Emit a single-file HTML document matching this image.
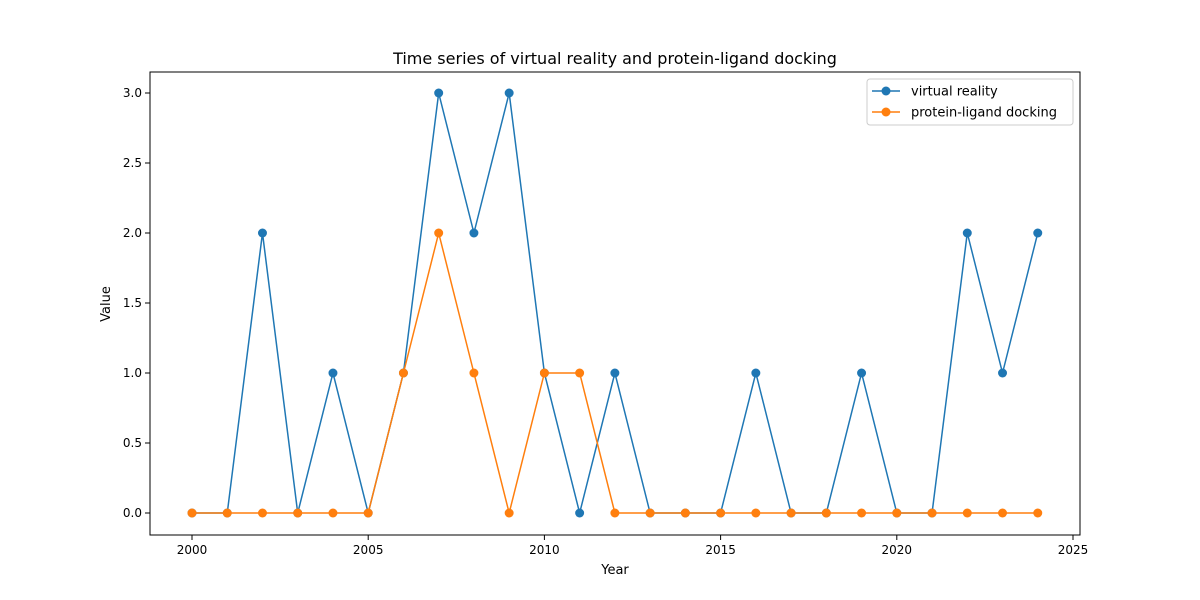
<!DOCTYPE html>
<html><head><meta charset="utf-8"><style>
html,body{margin:0;padding:0;background:#fff;}
svg{display:block;font-family:"DejaVu Sans","Liberation Sans",sans-serif;}
</style></head><body>
<svg id="chart" width="1200" height="600" viewBox="0 0 1200 600"></svg>
<script>
const years = [2000,2001,2002,2003,2004,2005,2006,2007,2008,2009,2010,2011,2012,2013,2014,2015,2016,2017,2018,2019,2020,2021,2022,2023,2024];
const virtualReality = [0,0,2,0,1,0,1,3,2,3,1,0,1,0,0,0,1,0,0,1,0,0,2,1,2];
const proteinLigand = [0,0,0,0,0,0,1,2,1,0,1,1,0,0,0,0,0,0,0,0,0,0,0,0,0];
const xTicks = [2000,2005,2010,2015,2020,2025];
const yTicks = [0,0.5,1,1.5,2,2.5,3];
const yTickLabels = ["0.0","0.5","1.0","1.5","2.0","2.5","3.0"];

const NS="http://www.w3.org/2000/svg";
const svg=document.getElementById('chart');
const L=150,R=1080,T=72,B=535;
const xs=v=>192+(v-2000)*(1073-192)/25;
const ys=v=>513-v*140;
function mk(tag,attrs,parent){const e=document.createElementNS(NS,tag);for(const k in attrs)e.setAttribute(k,attrs[k]);(parent||svg).appendChild(e);return e;}

const title=mk('text',{x:615,y:64,'text-anchor':'middle','font-size':16,fill:'#000'});
title.textContent='Time series of virtual reality and protein-ligand docking';



xTicks.forEach(t=>{
  const g=mk('g',{});
  
  
  mk('line',{x1:xs(t),x2:xs(t),y1:B,y2:B+5,stroke:'#000','stroke-width':1},g);
  const tx=mk('text',{x:xs(t),y:B+19,'text-anchor':'middle','font-size':12},g);tx.textContent=t;
});
yTicks.forEach((t,i)=>{
  const g=mk('g',{});
  
  
  mk('line',{x1:L-5,x2:L,y1:ys(t),y2:ys(t),stroke:'#000','stroke-width':1},g);
  const tx=mk('text',{x:L-8,y:ys(t)+4,'text-anchor':'end','font-size':12},g);tx.textContent=yTickLabels[i];
});
const xl=mk('text',{x:615,y:574,'text-anchor':'middle','font-size':13});xl.textContent='Year';


const yl=mk('text',{x:110,y:304,'text-anchor':'middle','font-size':13,transform:'rotate(-90 110 304)'});yl.textContent='Value';



function series(vals,color,name){
  const g=mk('g',{});
  
  
  mk('polyline',{points:years.map((y,i)=>xs(y)+','+ys(vals[i])).join(' '),fill:'none',stroke:color,'stroke-width':1.5},g);
  years.forEach((y,i)=>{
    const c=mk('circle',{cx:xs(y),cy:ys(vals[i]),r:4.5,fill:color},g);
    
    
  });
}
series(virtualReality,'#1f77b4','virtual-reality');
series(proteinLigand,'#ff7f0e','protein-ligand-docking');

const frame=mk('rect',{x:L,y:T,width:R-L,height:B-T,fill:'none',stroke:'#000','stroke-width':1});



const lg=mk('g',{});


mk('rect',{x:867,y:79,width:206,height:46,fill:'#fff',stroke:'#ccc',rx:3},lg);
[['virtual reality','#1f77b4',91],['protein-ligand docking','#ff7f0e',112]].forEach(([lab,c,y])=>{
  const e=mk('g',{},lg);
  
  
  mk('line',{x1:872,x2:900,y1:y,y2:y,stroke:c,'stroke-width':1.5},e);
  mk('circle',{cx:886,cy:y,r:4.5,fill:c},e);
  const t=mk('text',{x:911,y:y+4.5,'font-size':13},e);t.textContent=lab;
});
</script>
</body></html>
